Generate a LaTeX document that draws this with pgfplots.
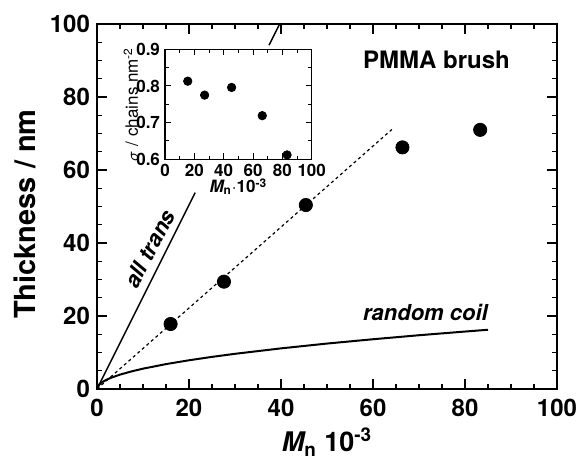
\documentclass[border=0pt]{standalone}
\usepackage{fontspec}
\setmainfont{TeX Gyre Heros}
\setsansfont{TeX Gyre Heros}
\usepackage{pgfplots}
\pgfplotsset{compat=1.18}
\begin{document}
\begin{tikzpicture}
\useasboundingbox (-48.5pt,-35pt) rectangle (243pt,194.5pt);
% main axis
\begin{axis}[at={(0,0)},anchor=south west,scale only axis,width=230pt,height=182.5pt,
  xmin=0,xmax=100,ymin=0,ymax=100,
  xtick={0,20,...,100},ytick={0,20,...,100},minor tick num=3,
  tick align=inside,major tick length=4.8pt,minor tick length=2.6pt,
  every tick/.style={black,line width=0.6pt},
  axis line style={line width=1pt},
  /pgf/number format/assume math mode=true,
  ticklabel style={font=\fontsize{12}{14}\selectfont\bfseries},
  xticklabel style={yshift=-1.5pt},
  xlabel={\fontsize{13.5}{16}\selectfont\bfseries\itshape M\textsubscript{\upshape n}\upshape\ 10\textsuperscript{-3}},
  ylabel={\fontsize{14.5}{17}\selectfont\bfseries Thickness / nm},
  xlabel style={at={([yshift=-26.5pt]axis description cs:0.5,0)},anchor=center},
  ylabel style={at={([xshift=-36pt]axis description cs:0,0.479)},anchor=center,rotate=0}]
% all trans (hidden behind the inset in the middle)
\addplot[black,line width=0.7pt] coordinates {(0,0) (21.35,53.8)};
\addplot[black,line width=0.7pt] coordinates {(37.4,94.2) (39.7,100)};
% linear fit
\addplot[black,line width=0.6pt,dash pattern=on 1.5pt off 1.5pt] coordinates {(0,0) (64.1,71.1)};
% random coil
\addplot[black,line width=1pt] coordinates {
(0,0) (0.5,1.24) (1,1.76) (2,2.49) (3,3.05) (5,3.94) (7.5,4.82) (10,5.57)
(15,6.82) (20,7.87) (25,8.80) (30,9.64) (40,11.13) (50,12.45) (60,13.63)
(70,14.73) (80,15.74) (85,16.23)};
% measured thickness
\addplot[only marks,mark=*,mark size=3.3pt,black] coordinates {
(16.0,17.8) (27.6,29.4) (45.4,50.4) (66.4,66.2) (83.3,71.0)};
\node[font=\fontsize{12}{14}\selectfont\bfseries] at (axis cs:73.8,90.1) {PMMA brush};
\node[font=\fontsize{11}{13}\selectfont\bfseries\itshape] at (axis cs:71.4,21.0) {random coil};
\node[font=\fontsize{11}{13}\selectfont\bfseries\itshape,rotate=62,inner sep=0pt] at (axis cs:11.5,38.4) {all trans};
\end{axis}
% inset: grafting density
\begin{axis}[at={(34pt,114.85pt)},anchor=south west,scale only axis,width=73.35pt,height=55pt,
  xmin=0,xmax=100,ymin=0.6,ymax=0.9,
  xtick={0,20,...,100},ytick={0.6,0.7,0.8,0.9},minor tick num=1,
  tick align=inside,major tick length=3pt,minor tick length=1.8pt,
  every tick/.style={black,line width=0.5pt},
  axis line style={line width=0.6pt},
  /pgf/number format/assume math mode=true,
  ticklabel style={font=\fontsize{8.5}{10}\selectfont\bfseries},
  xticklabel style={yshift=1pt},
  yticklabel style={xshift=1pt},
  xlabel={\fontsize{8.5}{10}\selectfont\bfseries\itshape M\textsubscript{\upshape n}\upshape$\cdot$10\textsuperscript{-3}},
  ylabel={\fontsize{8.5}{10}\selectfont $\sigma$ / chains nm\textsuperscript{-2}},
  xlabel style={at={([yshift=-13.7pt]axis description cs:0.5,0)},anchor=center},
  ylabel style={at={([xshift=-17pt]axis description cs:0,0.5)},anchor=center,rotate=0}]
\addplot[only marks,mark=*,mark size=2.1pt,black] coordinates {
(15.5,0.813) (27.0,0.775) (45.4,0.796) (66.3,0.719) (83.2,0.612)};
\end{axis}
\end{tikzpicture}
\end{document}
